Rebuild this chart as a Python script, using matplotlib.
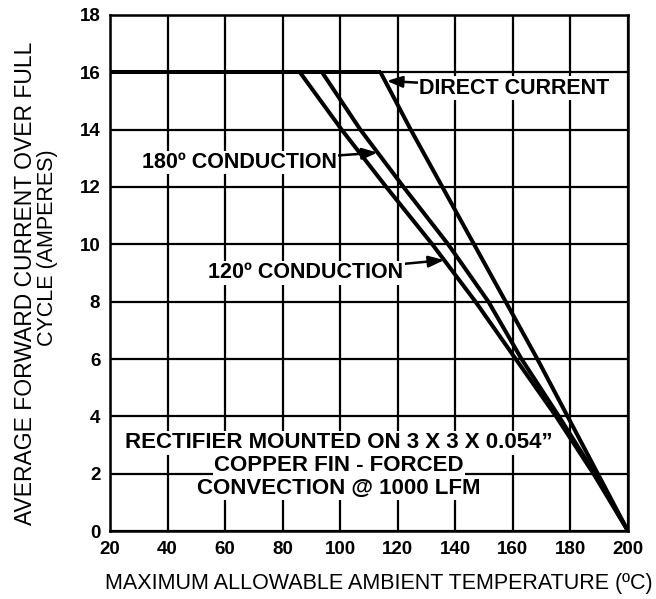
import numpy as np
import matplotlib
matplotlib.use("Agg")
import matplotlib.pyplot as plt

plt.rcParams['font.family'] = ['Liberation Sans', 'DejaVu Sans']

# readings (ambient temperature degC, average current A)
amps_steps = [16, 14, 12, 10, 8, 6, 4, 2, 0]
dc_temp = [114, 124.5, 135.5, 146.5, 157.5, 168.5, 179, 189.5, 200]
c180_temp = [93.7, 107, 122, 137.5, 151.5, 163, 176, 188.5, 200]
c120_temp = [86, 100.5, 116, 132, 147, 161, 175, 188, 200]
flat_temp = [20, 114]
flat_amps = [16, 16]

x_ticks = list(range(20, 201, 20))
y_ticks = list(range(0, 19, 2))

note_lines = ['RECTIFIER MOUNTED ON 3 X 3 X 0.054\u201d',
              'COPPER FIN - FORCED',
              'CONVECTION @ 1000 LFM']


def on_curve(temps, amps, y):
    # temperature of a curve at a given current (curves fall monotonically)
    return float(np.interp(y, amps[::-1], temps[::-1]))


fig = plt.figure(figsize=(6.56, 5.99), dpi=100)
ax = fig.add_axes([0.1677, 0.1135, 0.7896, 0.8615])

lw = 2.9
for temps, amps in [(flat_temp, flat_amps), (dc_temp, amps_steps),
                    (c180_temp, amps_steps), (c120_temp, amps_steps)]:
    ax.plot(temps, amps, color='black', lw=lw, solid_joinstyle='miter',
            solid_capstyle='butt', zorder=3)

ax.set_xlim(20, 200)
ax.set_ylim(0, 18)
ax.set_xticks(x_ticks)
ax.set_yticks(y_ticks)
ax.grid(True, color='black', lw=1.6, zorder=0)
ax.set_axisbelow(True)
for sp in ax.spines.values():
    sp.set_linewidth(1.8)
ax.tick_params(length=0, labelsize=13.5, pad=7)
for lab in ax.get_xticklabels() + ax.get_yticklabels():
    lab.set_fontweight('bold')

box = dict(facecolor='white', edgecolor='none', pad=1.0)
afont = dict(fontsize=15.5, fontweight='bold', color='black')
arrow = dict(arrowstyle='-|>,head_length=0.6,head_width=0.22', color='black', lw=1.8,
             shrinkA=0, shrinkB=0)

# DIRECT CURRENT
y_dc = 15.7
ax.annotate('DIRECT CURRENT', xy=(on_curve(dc_temp, amps_steps, y_dc) + 0.6, y_dc),
            xytext=(127.5, 15.45), va='center', ha='left', bbox=box,
            arrowprops=arrow, zorder=5, **afont)

# 180 deg conduction
y_180 = 13.2
ax.annotate('180\u00ba CONDUCTION', xy=(on_curve(c180_temp, amps_steps, y_180), y_180),
            xytext=(65, 12.85), va='center', ha='center', bbox=box,
            arrowprops=arrow, zorder=5, **afont)

# 120 deg conduction
y_120 = 9.45
ax.annotate('120\u00ba CONDUCTION', xy=(on_curve(c120_temp, amps_steps, y_120), y_120),
            xytext=(88, 9.0), va='center', ha='center', bbox=box,
            arrowprops=arrow, zorder=5, **afont)

for line, yv in zip(note_lines, [3.08, 2.27, 1.5]):
    ax.text(99.5, yv, line, ha='center', va='center', bbox=box, zorder=5,
            fontsize=16, fontweight='bold', color='black')

fig.text(0.578, 1 - 583 / 599, 'MAXIMUM ALLOWABLE AMBIENT TEMPERATURE (\u00baC)',
         ha='center', va='center', fontsize=15.5)
fig.text(26 / 656, 1 - 283 / 599, 'AVERAGE FORWARD CURRENT OVER FULL',
         ha='center', va='center', rotation=90, fontsize=16.5)
fig.text(48 / 656, 1 - 248 / 599, 'CYCLE (AMPERES)',
         ha='center', va='center', rotation=90, fontsize=15.5)

fig.savefig('out.png', dpi=100)
